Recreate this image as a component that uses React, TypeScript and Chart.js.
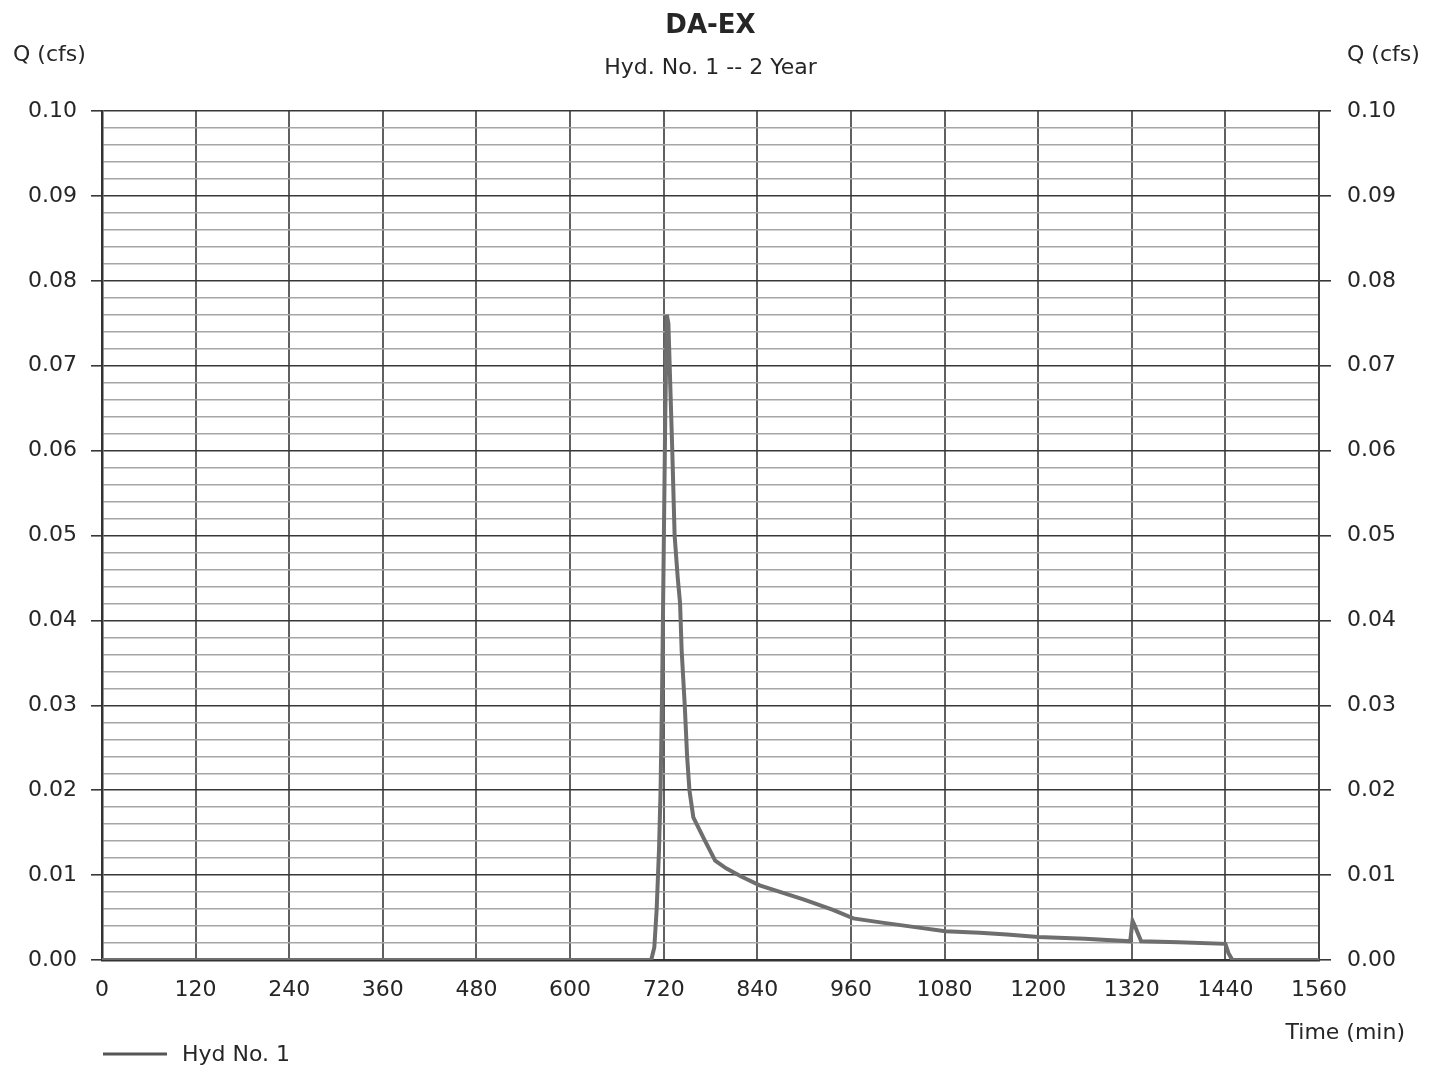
import React, { useEffect, useRef } from 'react';
import { Chart, registerables } from 'chart.js';

Chart.register(...registerables);

const timeMin: number[] = [
  0, 700, 704, 708, 711, 714, 716, 718, 720, 722, 724, 726, 729, 731, 734, 738,
  741, 743, 747, 750, 753, 758, 772, 786, 800, 820, 843, 873, 900, 937,
  963, 1000, 1040, 1081, 1125, 1160, 1200, 1260, 1318, 1321, 1324, 1332, 1380,
  1440, 1444, 1449, 1560,
];
const flowCfs: number[] = [
  0, 0, 0, 0.0015, 0.006, 0.013, 0.02, 0.032, 0.048, 0.064, 0.076, 0.075, 0.066,
  0.06, 0.05, 0.045, 0.042, 0.0365, 0.03, 0.024, 0.02, 0.0168, 0.0142,
  0.0117, 0.0108, 0.0098, 0.0088, 0.0079, 0.0071, 0.0059, 0.0049, 0.0044,
  0.0039, 0.0034, 0.0032, 0.003, 0.0027, 0.0025, 0.0022, 0.0046, 0.004, 0.0022,
  0.0021, 0.0019, 0.0008, 0, 0,
];

const chartTitle = 'DA-EX';
const chartSubtitle = 'Hyd. No. 1 -- 2 Year';
const yAxisLabel = 'Q (cfs)';
const xAxisLabel = 'Time (min)';
const seriesName = 'Hyd No. 1';

const xMin = 0;
const xMax = 1560;
const xStep = 120;
const yMin = 0;
const yMax = 0.1;
const yMinorStep = 0.002;

const FONT = '"DejaVu Sans", "Liberation Sans", sans-serif';

export default function App() {
  const ref = useRef<HTMLCanvasElement>(null);

  useEffect(() => {
    document.body.style.margin = '0';
    const canvas = ref.current!;
    const isMajor = (v: number) => Math.abs(v * 100 - Math.round(v * 100)) < 1e-6;

    const textPlugin = {
      id: 'texts',
      beforeDraw(chart: any) {
        const c = chart.ctx;
        c.save();
        c.fillStyle = '#ffffff';
        c.fillRect(0, 0, chart.width, chart.height);
        c.restore();
      },
      afterDraw(chart: any) {
        const c = chart.ctx;
        const area = chart.chartArea;
        const cx = (area.left + area.right) / 2;
        c.save();
        c.fillStyle = '#262626';
        c.textBaseline = 'middle';
        c.textAlign = 'center';
        c.font = `bold 26px ${FONT}`;
        c.fillText(chartTitle, cx, 26);
        c.font = `22px ${FONT}`;
        c.fillText(chartSubtitle, cx, 68);
        c.textAlign = 'left';
        c.fillText(yAxisLabel, 13, 55);
        c.fillText(yAxisLabel, 1347, 55);
        c.textAlign = 'right';
        c.fillText(xAxisLabel, 1405, 1033);
        // legend
        c.strokeStyle = '#555';
        c.lineWidth = 3;
        c.beginPath();
        c.moveTo(103, 1054);
        c.lineTo(167, 1054);
        c.stroke();
        c.textAlign = 'left';
        c.fillText(seriesName, 182, 1055);
        c.restore();
      },
    };

    const yTicks = (side: 'left' | 'right') => ({
      stepSize: yMinorStep,
      autoSkip: false,
      maxTicksLimit: 200,
      padding: side === 'left' ? 14 : 16,
      color: '#262626',
      font: { family: FONT, size: 22 },
      callback: (v: any) => (isMajor(Number(v)) ? Number(v).toFixed(2) : ''),
    });

    const chart = new Chart(canvas, {
      type: 'line',
      data: {
        datasets: [
          {
            label: seriesName,
            data: timeMin.map((t, i) => ({ x: t, y: flowCfs[i] })),
            borderColor: '#6e6e6e',
            borderWidth: 4,
            pointRadius: 0,
            tension: 0,
            fill: false,
          },
        ],
      },
      options: {
        responsive: false,
        animation: false,
        devicePixelRatio: 1,
        layout: { padding: { top: 111, left: 0, right: 0, bottom: 0 } },
        plugins: {
          legend: { display: false },
          title: { display: false },
          tooltip: { enabled: false },
        },
        scales: {
          x: {
            type: 'linear',
            min: xMin,
            max: xMax,
            ticks: {
              stepSize: xStep,
              autoSkip: false,
              maxRotation: 0,
              padding: 17,
              color: '#262626',
              font: { family: FONT, size: 22 },
              callback: (v: any) => String(v),
            },
            grid: { color: '#606060', lineWidth: 2, drawTicks: false },
            border: { display: true, color: '#333', width: 2.5 },
            afterFit: (s: any) => {
              s.height = 106;
            },
          },
          y: {
            type: 'linear',
            position: 'left',
            min: yMin,
            max: yMax,
            ticks: yTicks('left'),
            grid: {
              color: (ctx: any) => (isMajor(ctx.tick.value) ? '#383838' : '#a6a6a6'),
              tickColor: (ctx: any) => (isMajor(ctx.tick.value) ? '#383838' : 'rgba(0,0,0,0)'),
              lineWidth: (ctx: any) => (isMajor(ctx.tick.value) ? 1.6 : 1.4),
              tickLength: 11,
            },
            border: { display: true, color: '#333', width: 2.5 },
            afterFit: (s: any) => {
              s.width = 102;
            },
          },
          y2: {
            type: 'linear',
            position: 'right',
            min: yMin,
            max: yMax,
            ticks: yTicks('right'),
            grid: {
              drawOnChartArea: false,
              tickColor: (ctx: any) => (isMajor(ctx.tick.value) ? '#383838' : 'rgba(0,0,0,0)'),
              lineWidth: 1.6,
              tickLength: 12,
            },
            border: { display: true, color: '#444', width: 2 },
            afterFit: (s: any) => {
              s.width = 116;
            },
          },
        },
      } as any,
      plugins: [textPlugin],
    });

    return () => chart.destroy();
  }, []);

  return (
    <div style={{ position: 'absolute', left: 0, top: 0, width: 1435, height: 1066, background: '#fff' }}>
      <canvas ref={ref} width={1435} height={1066} style={{ display: 'block' }} />
    </div>
  );
}
